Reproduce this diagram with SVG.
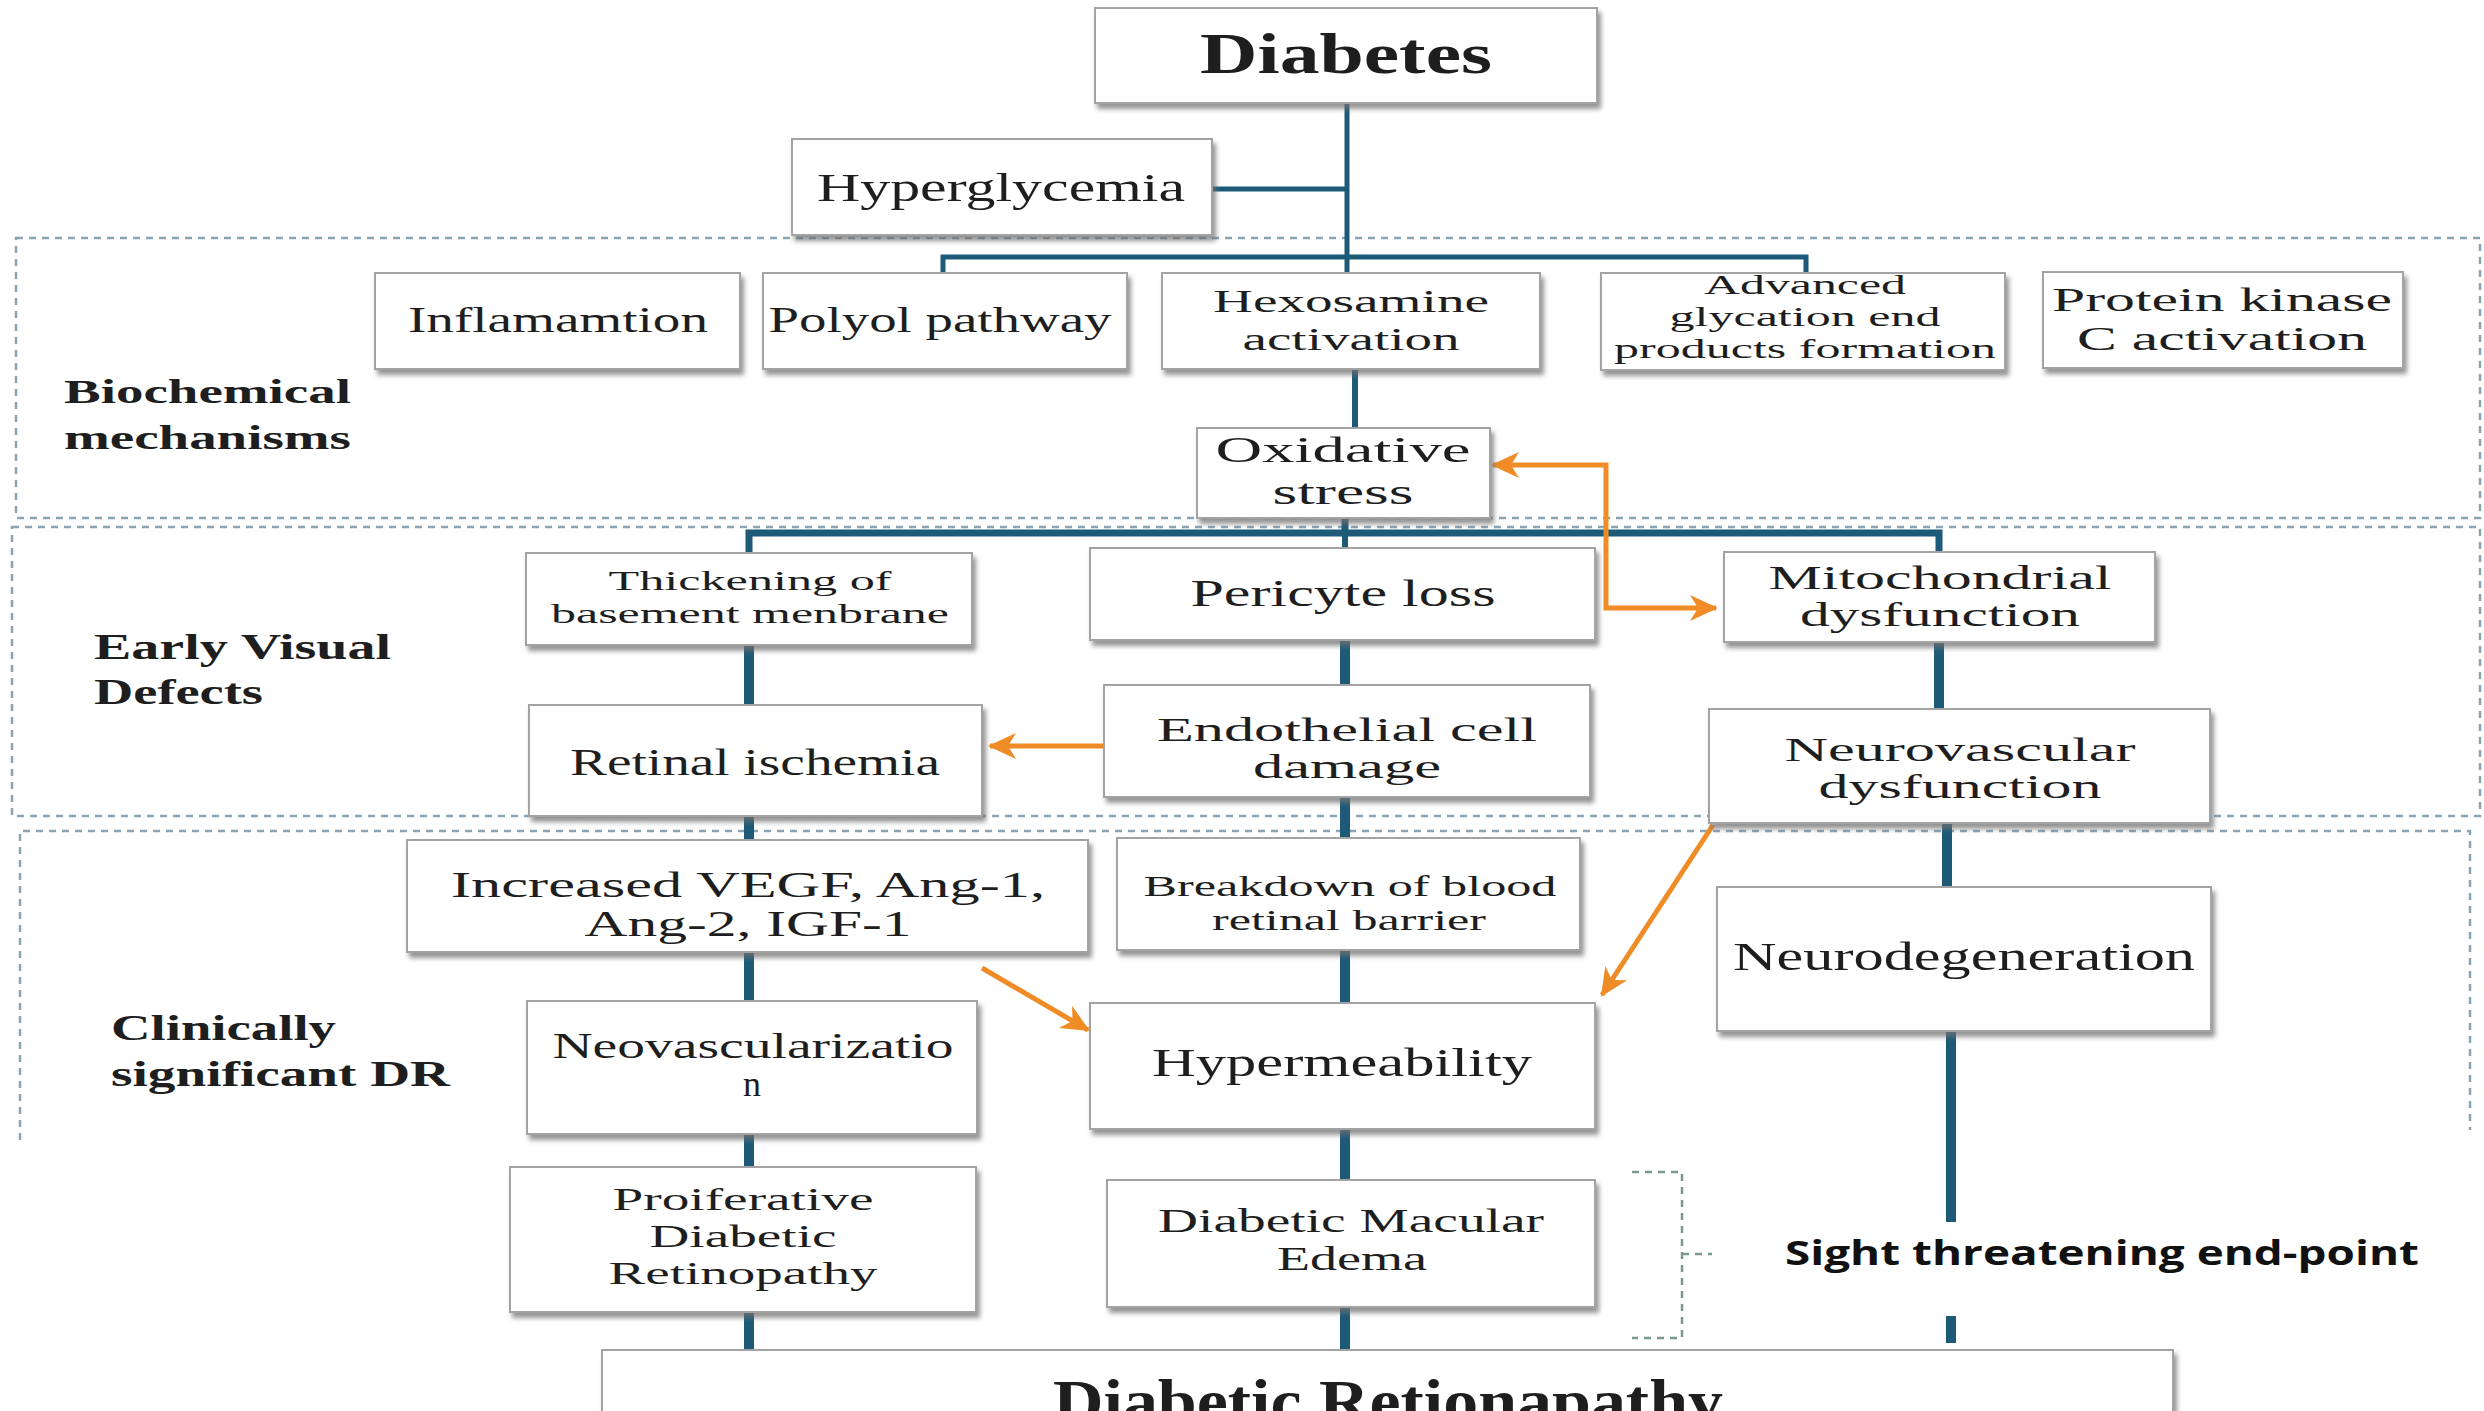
<svg xmlns="http://www.w3.org/2000/svg" width="2484" height="1411" viewBox="0 0 2484 1411">
<style>
.bg{fill:#ffffff}
.box{fill:#ffffff;stroke:#a3a3a3;stroke-width:2;filter:url(#sh)}
.t{font-family:"Liberation Serif","Times New Roman",serif;fill:#1e1e1e;text-anchor:middle}
.lbl{font-family:"Liberation Serif","Times New Roman",serif;font-weight:bold;fill:#1e1e1e}
.sec{fill:none;stroke:#8aa4b4;stroke-width:2.5;stroke-dasharray:7 6}
.c{stroke:#1d5a78;fill:none;stroke-linecap:butt}
.c1{stroke-width:5}
.c2{stroke-width:10}
.o{stroke:#ef8c26;stroke-width:5;fill:none}
</style>
<defs>
<filter id="sh" x="-5%" y="-5%" width="112%" height="120%">
<feDropShadow dx="3" dy="5" stdDeviation="2.5" flood-color="#6f6f6f" flood-opacity="0.75"/>
</filter>
<marker id="ah" markerUnits="userSpaceOnUse" markerWidth="32" markerHeight="32" viewBox="0 0 32 32" refX="28" refY="16" orient="auto">
<path d="M2,3 L30,16 L2,29 L10,16 Z" fill="#ef8c26"/>
</marker>
<marker id="ahs" markerUnits="userSpaceOnUse" markerWidth="32" markerHeight="32" viewBox="0 0 32 32" refX="28" refY="16" orient="auto-start-reverse">
<path d="M2,3 L30,16 L2,29 L10,16 Z" fill="#ef8c26"/>
</marker>
</defs>
<rect class="bg" x="0" y="0" width="2484" height="1411"/>

<g id="sections">
<rect class="sec" x="16" y="238" width="2464" height="280"/>
<rect class="sec" x="12" y="527" width="2468" height="289"/>
<path class="sec" d="M20,1140 V831 H2470 V1130"/>
<text class="lbl" x="64" y="403" font-size="34" textLength="287" lengthAdjust="spacingAndGlyphs">Biochemical</text>
<text class="lbl" x="64" y="449" font-size="34" textLength="287" lengthAdjust="spacingAndGlyphs">mechanisms</text>
<text class="lbl" x="94" y="659" font-size="35" textLength="297" lengthAdjust="spacingAndGlyphs">Early Visual</text>
<text class="lbl" x="94" y="704" font-size="35" textLength="169" lengthAdjust="spacingAndGlyphs">Defects</text>
<text class="lbl" x="111" y="1040" font-size="35" textLength="225" lengthAdjust="spacingAndGlyphs">Clinically</text>
<text class="lbl" x="111" y="1086" font-size="35" textLength="339" lengthAdjust="spacingAndGlyphs">significant DR</text>
</g>

<g id="connectors">
<path class="c c1" d="M1347,103 V274"/>
<path class="c c1" d="M1212,189 H1347"/>
<path class="c c1" d="M943,274 V257 H1806 V274"/>
<path class="c" stroke-width="6" d="M1355,369 V428"/>
<path class="c" stroke-width="7" d="M1345,518 V533"/>
<path class="c" stroke-width="7" d="M749,553 V533 H1939 V552"/>
<path class="c" stroke-width="6" d="M1345,533 V548"/>
<path class="c c2" d="M749,645 V705"/>
<path class="c c2" d="M1345,640 V685"/>
<path class="c c2" d="M1939,642 V709"/>
<path class="c c2" d="M749,816 V840"/>
<path class="c c2" d="M1345,797 V838"/>
<path class="c c2" d="M1947,823 V887"/>
<path class="c c2" d="M749,952 V1001"/>
<path class="c c2" d="M1345,950 V1003"/>
<path class="c c2" d="M749,1134 V1167"/>
<path class="c c2" d="M1345,1129 V1180"/>
<path class="c c2" d="M1951,1031 V1222"/>
<path class="c c2" d="M1951,1316 V1343"/>
<path class="c c2" d="M749,1312 V1350"/>
<path class="c c2" d="M1345,1307 V1350"/>
<path class="o" d="M1493,465 H1606 V608 H1716" marker-start="url(#ahs)" marker-end="url(#ah)"/>
<path class="o" d="M1104,746 H990" marker-end="url(#ah)"/>
<path class="o" d="M1713,825 L1602,995" marker-end="url(#ah)"/>
<path class="o" d="M982,968 L1088,1030" marker-end="url(#ah)"/>
<path fill="none" stroke="#7c9a8c" stroke-width="2.5" stroke-dasharray="7 6" d="M1632,1172 H1682 V1338 H1632 M1682,1254 H1712"/>
</g>

<g id="n-diabetes">
<rect class="box" x="1095" y="8" width="502" height="95"/>
<text class="t" x="1346" y="73" font-size="58" font-weight="bold" textLength="292" lengthAdjust="spacingAndGlyphs">Diabetes</text>
</g>
<g id="n-hyperglycemia">
<rect class="box" x="792" y="139" width="420" height="96"/>
<text class="t" x="1001" y="201" font-size="40" textLength="368" lengthAdjust="spacingAndGlyphs">Hyperglycemia</text>
</g>
<g id="n-inflammation">
<rect class="box" x="375" y="273" width="365" height="96"/>
<text class="t" x="558" y="332" font-size="36" textLength="300" lengthAdjust="spacingAndGlyphs">Inflamamtion</text>
</g>
<g id="n-polyol">
<rect class="box" x="763" y="273" width="364" height="96"/>
<text class="t" x="940" y="332" font-size="36" textLength="343" lengthAdjust="spacingAndGlyphs">Polyol pathway</text>
</g>
<g id="n-hexosamine">
<rect class="box" x="1162" y="273" width="378" height="96"/>
<text class="t" x="1351" y="312" font-size="32" textLength="276" lengthAdjust="spacingAndGlyphs">Hexosamine</text>
<text class="t" x="1351" y="350" font-size="32" textLength="217" lengthAdjust="spacingAndGlyphs">activation</text>
</g>
<g id="n-age">
<rect class="box" x="1601" y="273" width="404" height="97"/>
<text class="t" x="1805" y="294" font-size="28" textLength="202" lengthAdjust="spacingAndGlyphs">Advanced</text>
<text class="t" x="1805" y="326" font-size="28" textLength="271" lengthAdjust="spacingAndGlyphs">glycation end</text>
<text class="t" x="1805" y="358" font-size="28" textLength="382" lengthAdjust="spacingAndGlyphs">products formation</text>
</g>
<g id="n-pkc">
<rect class="box" x="2043" y="272" width="360" height="96"/>
<text class="t" x="2222" y="311" font-size="33" textLength="340" lengthAdjust="spacingAndGlyphs">Protein kinase</text>
<text class="t" x="2222" y="350" font-size="33" textLength="290" lengthAdjust="spacingAndGlyphs">C activation</text>
</g>
<g id="n-oxidative">
<rect class="box" x="1197" y="428" width="293" height="90"/>
<text class="t" x="1343" y="462" font-size="36" textLength="255" lengthAdjust="spacingAndGlyphs">Oxidative</text>
<text class="t" x="1343" y="504" font-size="36" textLength="141" lengthAdjust="spacingAndGlyphs">stress</text>
</g>
<g id="n-thickening">
<rect class="box" x="526" y="553" width="446" height="92"/>
<text class="t" x="750" y="590" font-size="28" textLength="283" lengthAdjust="spacingAndGlyphs">Thickening of</text>
<text class="t" x="750" y="623" font-size="28" textLength="398" lengthAdjust="spacingAndGlyphs">basement menbrane</text>
</g>
<g id="n-pericyte">
<rect class="box" x="1090" y="548" width="505" height="92"/>
<text class="t" x="1343" y="606" font-size="38" textLength="305" lengthAdjust="spacingAndGlyphs">Pericyte loss</text>
</g>
<g id="n-mito">
<rect class="box" x="1724" y="552" width="431" height="90"/>
<text class="t" x="1940" y="589" font-size="33" textLength="343" lengthAdjust="spacingAndGlyphs">Mitochondrial</text>
<text class="t" x="1940" y="626" font-size="33" textLength="280" lengthAdjust="spacingAndGlyphs">dysfunction</text>
</g>
<g id="n-retinal-ischemia">
<rect class="box" x="529" y="705" width="453" height="111"/>
<text class="t" x="755" y="775" font-size="38" textLength="370" lengthAdjust="spacingAndGlyphs">Retinal ischemia</text>
</g>
<g id="n-endothelial">
<rect class="box" x="1104" y="685" width="486" height="112"/>
<text class="t" x="1347" y="741" font-size="34" textLength="380" lengthAdjust="spacingAndGlyphs">Endothelial cell</text>
<text class="t" x="1347" y="778" font-size="34" textLength="188" lengthAdjust="spacingAndGlyphs">damage</text>
</g>
<g id="n-neurovascular">
<rect class="box" x="1709" y="709" width="501" height="114"/>
<text class="t" x="1960" y="761" font-size="34" textLength="351" lengthAdjust="spacingAndGlyphs">Neurovascular</text>
<text class="t" x="1960" y="798" font-size="34" textLength="283" lengthAdjust="spacingAndGlyphs">dysfunction</text>
</g>
<g id="n-vegf">
<rect class="box" x="407" y="840" width="681" height="112"/>
<text class="t" x="748" y="897" font-size="36" textLength="594" lengthAdjust="spacingAndGlyphs">Increased VEGF, Ang-1,</text>
<text class="t" x="748" y="936" font-size="36" textLength="327" lengthAdjust="spacingAndGlyphs">Ang-2, IGF-1</text>
</g>
<g id="n-breakdown">
<rect class="box" x="1117" y="838" width="463" height="112"/>
<text class="t" x="1350" y="896" font-size="30" textLength="413" lengthAdjust="spacingAndGlyphs">Breakdown of blood</text>
<text class="t" x="1349" y="930" font-size="30" textLength="274" lengthAdjust="spacingAndGlyphs">retinal barrier</text>
</g>
<g id="n-neurodegeneration">
<rect class="box" x="1717" y="887" width="494" height="144"/>
<text class="t" x="1964" y="970" font-size="40" textLength="462" lengthAdjust="spacingAndGlyphs">Neurodegeneration</text>
</g>
<g id="n-neovascularization">
<rect class="box" x="527" y="1001" width="450" height="133"/>
<text class="t" x="753" y="1058" font-size="36" textLength="401" lengthAdjust="spacingAndGlyphs">Neovascularizatio</text>
<text class="t" x="752" y="1096" font-size="36">n</text>
</g>
<g id="n-hypermeability">
<rect class="box" x="1090" y="1003" width="505" height="126"/>
<text class="t" x="1342" y="1076" font-size="40" textLength="380" lengthAdjust="spacingAndGlyphs">Hypermeability</text>
</g>
<g id="n-pdr">
<rect class="box" x="510" y="1167" width="466" height="145"/>
<text class="t" x="743" y="1210" font-size="32" textLength="261" lengthAdjust="spacingAndGlyphs">Proiferative</text>
<text class="t" x="743" y="1247" font-size="32" textLength="187" lengthAdjust="spacingAndGlyphs">Diabetic</text>
<text class="t" x="743" y="1284" font-size="32" textLength="269" lengthAdjust="spacingAndGlyphs">Retinopathy</text>
</g>
<g id="n-dme">
<rect class="box" x="1107" y="1180" width="488" height="127"/>
<text class="t" x="1351" y="1232" font-size="34" textLength="386" lengthAdjust="spacingAndGlyphs">Diabetic Macular</text>
<text class="t" x="1352" y="1270" font-size="34" textLength="150" lengthAdjust="spacingAndGlyphs">Edema</text>
</g>
<g id="n-sight">
<text x="1785" y="1265" font-family="'Open Sans','Liberation Sans',sans-serif" font-weight="bold" font-size="34" fill="#111" textLength="634" lengthAdjust="spacingAndGlyphs">Sight threatening end-point</text>
</g>
<g id="n-dr">
<rect class="box" x="602" y="1350" width="1571" height="110"/>
<text class="t" x="1388" y="1422" font-size="62" font-weight="bold" textLength="670" lengthAdjust="spacingAndGlyphs">Diabetic Retionapathy</text>
</g>
</svg>
